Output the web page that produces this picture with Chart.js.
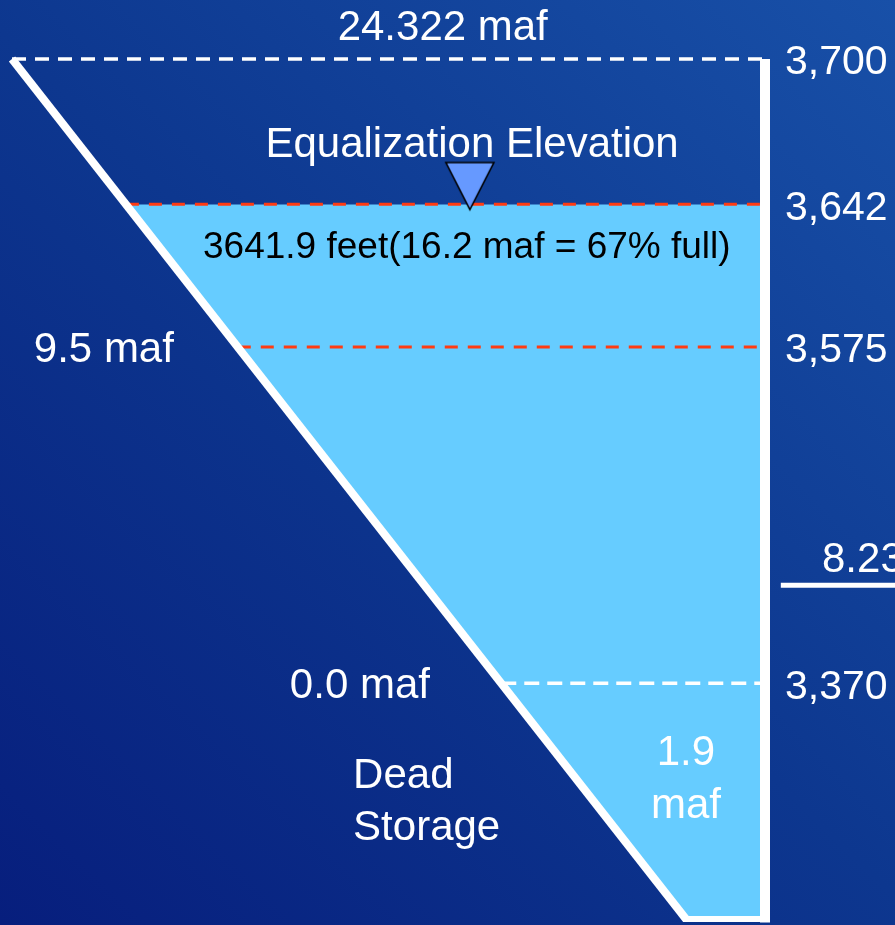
<!DOCTYPE html>
<html>
<head>
<meta charset="utf-8">
<script src="https://cdn.jsdelivr.net/npm/chart.js@4.4.1/dist/chart.umd.min.js"></script>
<style>
  html, body { margin: 0; padding: 0; background: #0c3590; overflow: hidden; }
  canvas { display: block; }
</style>
</head>
<body>
<canvas id="reservoir" width="895" height="925"></canvas>
<script>
// Lake levels marked on the dam face (feet above sea level), lowest first
const elevationsFt = [3370, 3575, 3642, 3700];
const elevationLabels = ['3,370', '3,575', '3,642', '3,700'];
// Schematic height of each level above the floor of the section (0 = floor, 1 = full pool)
const levelHeights = [0.274, 0.665, 0.831, 1.0];
// Live storage at each level, million acre-feet (null = not labelled)
const liveStorageMaf = [0.0, 9.5, null, 24.322];

// Current pool
const waterSurfaceFt = 3641.9;
const waterStorageMaf = 16.2;
const percentFull = 67;
const deadStorageMaf = 1.9;

// Annual release tier shown off the dam face
const releaseMaf = 8.23;
const releaseHeight = 0.388;

// Shoreline reach upstream of the dam (1 = full-pool shoreline, 0 = dam face)
const shoreTopReach = 1.0;
const shoreFloorReach = 0.105;
const markerReach = 0.392;

const FONT = '"Liberation Sans", Arial, sans-serif';

// elevation -> schematic height (piecewise between the marked levels)
function heightOf(ft) {
  for (let i = 1; i < elevationsFt.length; i++) {
    if (ft <= elevationsFt[i]) {
      const t = (ft - elevationsFt[i - 1]) / (elevationsFt[i] - elevationsFt[i - 1]);
      return levelHeights[i - 1] + t * (levelHeights[i] - levelHeights[i - 1]);
    }
  }
  return levelHeights[levelHeights.length - 1];
}
// shoreline position at a given schematic height
function shoreAt(h) {
  return shoreFloorReach + (shoreTopReach - shoreFloorReach) * h;
}
function mafText(v) {
  return (Number.isInteger(v) ? v.toFixed(1) : String(v)) + ' maf';
}

const waterH = heightOf(waterSurfaceFt);

// inverted-triangle water-level marker, apex slightly below the image centre
function makeMarker() {
  const c = document.createElement('canvas');
  c.width = 52; c.height = 90;
  const g = c.getContext('2d');
  g.beginPath();
  g.moveTo(2, 3); g.lineTo(50, 3); g.lineTo(26, 50); g.closePath();
  g.fillStyle = '#6699ff'; g.fill();
  g.lineWidth = 1.6; g.strokeStyle = '#000000'; g.stroke();
  return c;
}

const levelStyles = [
  { color: '#ffffff', dash: [15, 8], width: 3.5 },
  { color: '#ff3b12', dash: [13, 10], width: 3 },
  { color: '#ff3b12', dash: [13, 10], width: 3 },
  { color: '#ffffff', dash: [14, 9], width: 3.5 }
];

const lineBase = { type: 'line', pointRadius: 0, tension: 0, clip: false, fill: false };

const datasets = [];

// water body between the shoreline and the dam
datasets.push(Object.assign({}, lineBase, {
  label: 'water',
  order: 10,
  data: [
    { x: shoreAt(waterH), y: waterH },
    { x: 0, y: waterH },
    { x: 0, y: 0 },
    { x: shoreFloorReach, y: 0 }
  ],
  fill: 'shape',
  backgroundColor: '#66ccff',
  borderWidth: 0,
  borderColor: 'rgba(0,0,0,0)'
}));

// marked levels, shoreline to dam
elevationsFt.forEach((ft, i) => {
  const h = levelHeights[i];
  datasets.push(Object.assign({}, lineBase, {
    label: elevationLabels[i],
    order: 5,
    data: [{ x: shoreAt(h), y: h }, { x: 0, y: h }],
    borderColor: levelStyles[i].color,
    borderDash: levelStyles[i].dash,
    borderWidth: levelStyles[i].width
  }));
});

// shoreline, section floor, dam face
datasets.push(Object.assign({}, lineBase, {
  label: 'shore', order: 2,
  data: [{ x: shoreTopReach, y: 1 }, { x: shoreFloorReach, y: 0 }],
  borderColor: '#ffffff', borderWidth: 8
}));
datasets.push(Object.assign({}, lineBase, {
  label: 'floor', order: 2,
  data: [{ x: shoreFloorReach, y: 0 }, { x: 0, y: 0 }],
  borderColor: '#ffffff', borderWidth: 6, borderCapStyle: 'square'
}));
datasets.push(Object.assign({}, lineBase, {
  label: 'dam', order: 1,
  data: [{ x: 0, y: 1 }, { x: 0, y: -0.004 }],
  borderColor: '#ffffff', borderWidth: 10
}));

// release tier underline beside the dam
datasets.push(Object.assign({}, lineBase, {
  label: 'release', order: 1,
  data: [{ x: -0.021, y: releaseHeight }, { x: -0.19, y: releaseHeight }],
  borderColor: '#ffffff', borderWidth: 5
}));

// water-level marker (image point style; small radius keeps layout padding tight)
datasets.push({
  type: 'line', label: 'marker', order: 0, clip: false, showLine: false,
  data: [{ x: markerReach, y: waterH }],
  pointStyle: makeMarker(), pointRadius: 1, pointBorderWidth: 0, pointRotation: 0
});

// text placed in scale units: [text, reach, height, align, colour, size]
const notes = [
  [mafText(liveStorageMaf[3]), 0.428, 1.022, 'center', '#ffffff', 42],
  ['Equalization Elevation', 0.389, 0.886, 'center', '#ffffff', 42],
  [`${waterSurfaceFt} feet(${waterStorageMaf} maf = ${percentFull}% full)`, 0.396, 0.769, 'center', '#000000', 37],
  [mafText(liveStorageMaf[1]), 0.878, 0.648, 'center', '#ffffff', 42],
  [mafText(liveStorageMaf[0]), 0.538, 0.257, 'center', '#ffffff', 42],
  ['Dead', 0.547, 0.152, 'left', '#ffffff', 42],
  ['Storage', 0.547, 0.092, 'left', '#ffffff', 42],
  [String(deadStorageMaf), 0.105, 0.179, 'center', '#ffffff', 42],
  ['maf', 0.105, 0.117, 'center', '#ffffff', 42],
  [mafText(releaseMaf), -0.0757, 0.4035, 'left', '#ffffff', 42]
];

const backdrop = {
  id: 'backdrop',
  beforeDraw(chart) {
    const { ctx, width, height } = chart;
    const g = ctx.createLinearGradient(0, height, width, 0);
    g.addColorStop(0, '#071e7d');
    g.addColorStop(0.5, '#0d378f');
    g.addColorStop(1, '#1850a8');
    ctx.save();
    ctx.fillStyle = g;
    ctx.fillRect(0, 0, width, height);
    ctx.restore();
  }
};

const annotations = {
  id: 'annotations',
  afterDraw(chart) {
    const { ctx } = chart;
    const xs = chart.scales.x, ys = chart.scales.y;
    ctx.save();
    ctx.textBaseline = 'alphabetic';
    notes.forEach(([txt, rx, hy, align, color, size]) => {
      ctx.font = `${size}px ${FONT}`;
      ctx.fillStyle = color;
      ctx.textAlign = align;
      ctx.fillText(txt, xs.getPixelForValue(rx), ys.getPixelForValue(hy));
    });
    ctx.restore();
  }
};

new Chart(document.getElementById('reservoir'), {
  type: 'line',
  data: { datasets },
  options: {
    responsive: false,
    animation: false,
    events: [],
    devicePixelRatio: 1,
    layout: { padding: { left: 12, top: 59, right: 0, bottom: 6 } },
    plugins: { legend: { display: false }, tooltip: { enabled: false } },
    scales: {
      x: { type: 'linear', reverse: true, min: 0, max: 1, display: false },
      y: {
        type: 'linear', position: 'right', min: 0, max: 1,
        grid: { display: false, drawTicks: false },
        border: { display: false },
        afterBuildTicks(axis) {
          axis.ticks = levelHeights.map(v => ({ value: v }));
        },
        afterFit(axis) {
          axis.width = 130;
          axis.paddingTop = 0;
          axis.paddingBottom = 0;
        },
        ticks: {
          autoSkip: false,
          padding: 20,
          labelOffset: 4,
          color: '#ffffff',
          font: { family: FONT, size: 41 },
          callback: (v, i) => elevationLabels[i]
        }
      }
    }
  },
  plugins: [backdrop, annotations]
});
</script>
</body>
</html>
